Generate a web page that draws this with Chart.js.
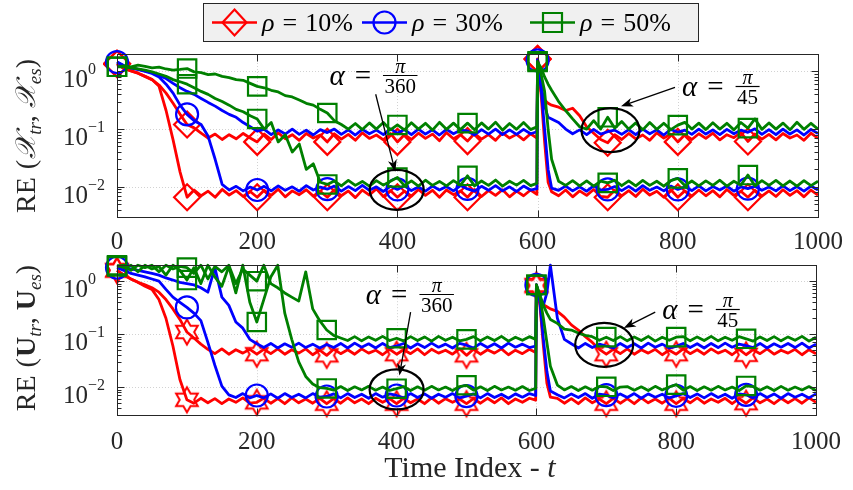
<!DOCTYPE html>
<html>
<head>
<meta charset="utf-8">
<script src="https://cdn.jsdelivr.net/npm/chart.js@4.4.0/dist/chart.umd.min.js"></script>
<style>
html, body { margin: 0; padding: 0; background: #fff; }
#wrap { position: relative; width: 853px; height: 490px; overflow: hidden; }
canvas { position: absolute; left: 0; }
#topChart { top: 0; }
#botChart { top: 250px; }
</style>
</head>
<body>
<div id="wrap">
<canvas id="topChart" width="853" height="250"></canvas>
<canvas id="botChart" width="853" height="240"></canvas>
</div>
<script>
// time index (denser around the jump at t = 600)
var t = [0, 10, 20, 30, 40, 50, 60, 70, 80, 90,
  100, 110, 120, 130, 140, 150, 160, 170, 180, 190,
  200, 210, 220, 230, 240, 250, 260, 270, 280, 290,
  300, 310, 320, 330, 340, 350, 360, 370, 380, 390,
  400, 410, 420, 430, 440, 450, 460, 470, 480, 490,
  500, 510, 520, 530, 540, 550, 560, 570, 580, 590,
  599, 600, 605, 610, 615, 620,
  630, 640, 650, 660, 670, 680, 690, 700, 710, 720,
  730, 740, 750, 760, 770, 780, 790, 800, 810, 820,
  830, 840, 850, 860, 870, 880, 890, 900, 910, 920,
  930, 940, 950, 960, 970, 980, 990, 1000];

var rhoLabels = ['10%', '30%', '50%'];
var xTickVals = [0, 200, 400, 600, 800, 1000];
var yTickVals = [1, 0.1, 0.01];
var yTickExp = ['0', '\u22121', '\u22122'];

// ---- RE(X_tr, X_es) : alpha = pi/360 (1) and alpha = pi/45 (2)
var xRed1 = [1.35, 1.12, 1.02, 0.93, 0.82, 0.72, 0.55, 0.21, 0.065, 0.018,
  0.0066, 0.0088, 0.0070, 0.0084, 0.0066, 0.0090, 0.0072, 0.0086, 0.0068, 0.0083,
  0.0066, 0.0087, 0.0071, 0.0091, 0.0067, 0.0085, 0.0073, 0.0089, 0.0069, 0.0084,
  0.0066, 0.0089, 0.0070, 0.0085, 0.0065, 0.0088, 0.0072, 0.0092, 0.0068, 0.0086,
  0.0066, 0.0084, 0.0069, 0.0090, 0.0071, 0.0087, 0.0066, 0.0088, 0.0073, 0.0085,
  0.0066, 0.0090, 0.0068, 0.0086, 0.0071, 0.0089, 0.0067, 0.0084, 0.0070, 0.0088,
  0.0074, 1.62, 0.4, 0.06, 0.012, 0.0082,
  0.0070, 0.0088, 0.0067, 0.0085, 0.0071, 0.0090, 0.0068, 0.0066, 0.0087, 0.0070,
  0.0086, 0.0068, 0.0091, 0.0072, 0.0084, 0.0066, 0.0089, 0.0066, 0.0085, 0.0069,
  0.0088, 0.0070, 0.0086, 0.0067, 0.0090, 0.0071, 0.0084, 0.0066, 0.0087, 0.0069,
  0.0085, 0.0068, 0.0089, 0.0071, 0.0086, 0.0067, 0.0088, 0.0072];
var xRed2 = [1.35, 1.12, 1.02, 0.93, 0.82, 0.72, 0.58, 0.42, 0.28, 0.18,
  0.12, 0.105, 0.085, 0.07, 0.082, 0.066, 0.08, 0.068, 0.084, 0.07,
  0.06, 0.082, 0.066, 0.086, 0.068, 0.08, 0.064, 0.084, 0.07, 0.079,
  0.06, 0.083, 0.067, 0.081, 0.064, 0.086, 0.069, 0.079, 0.065, 0.084,
  0.06, 0.08, 0.066, 0.085, 0.069, 0.082, 0.063, 0.087, 0.068, 0.08,
  0.062, 0.084, 0.067, 0.08, 0.064, 0.086, 0.07, 0.081, 0.065, 0.083,
  0.07, 1.65, 0.45, 0.32, 0.28, 0.26,
  0.24, 0.21, 0.23, 0.17, 0.11, 0.085, 0.066, 0.058, 0.08, 0.066,
  0.084, 0.068, 0.079, 0.064, 0.086, 0.07, 0.082, 0.06, 0.08, 0.066,
  0.083, 0.069, 0.085, 0.065, 0.08, 0.071, 0.087, 0.061, 0.082, 0.067,
  0.081, 0.065, 0.084, 0.07, 0.079, 0.064, 0.085, 0.069];
var xBlue1 = [1.45, 1.25, 1.15, 1.08, 1.0, 0.92, 0.8, 0.6, 0.42, 0.26,
  0.18, 0.14, 0.12, 0.075, 0.03, 0.011, 0.0088, 0.0102, 0.0085, 0.0099,
  0.0088, 0.0102, 0.0085, 0.0104, 0.0087, 0.0100, 0.0084, 0.0105, 0.0088, 0.0099,
  0.0091, 0.0103, 0.0084, 0.0101, 0.0086, 0.0106, 0.0087, 0.0100, 0.0083, 0.0102,
  0.0090, 0.0104, 0.0086, 0.0099, 0.0084, 0.0103, 0.0088, 0.0101, 0.0085, 0.0105,
  0.0092, 0.0084, 0.0102, 0.0087, 0.0105, 0.0085, 0.0100, 0.0083, 0.0103, 0.0088,
  0.0093, 1.55, 0.5, 0.1, 0.02, 0.0095,
  0.0087, 0.0103, 0.0085, 0.0100, 0.0084, 0.0104, 0.0088, 0.0090, 0.0101, 0.0086,
  0.0102, 0.0084, 0.0105, 0.0087, 0.0099, 0.0085, 0.0103, 0.0090, 0.0100, 0.0086,
  0.0104, 0.0085, 0.0101, 0.0088, 0.0103, 0.0084, 0.0100, 0.0093, 0.0102, 0.0087,
  0.0099, 0.0085, 0.0104, 0.0086, 0.0101, 0.0084, 0.0103, 0.0088];
var xBlue2 = [1.45, 1.25, 1.15, 1.08, 1.02, 0.95, 0.85, 0.75, 0.62, 0.52,
  0.45, 0.40, 0.34, 0.29, 0.25, 0.21, 0.18, 0.16, 0.13, 0.11,
  0.092, 0.099, 0.08, 0.097, 0.082, 0.1, 0.081, 0.096, 0.079, 0.098,
  0.087, 0.1, 0.081, 0.097, 0.079, 0.099, 0.083, 0.096, 0.08, 0.101,
  0.085, 0.098, 0.08, 0.1, 0.082, 0.097, 0.079, 0.099, 0.083, 0.096,
  0.093, 0.079, 0.098, 0.082, 0.1, 0.08, 0.097, 0.081, 0.099, 0.083,
  0.09, 1.6, 0.6, 0.25, 0.16, 0.15,
  0.13, 0.1, 0.083, 0.097, 0.08, 0.099, 0.082, 0.09, 0.096, 0.081,
  0.098, 0.08, 0.1, 0.083, 0.097, 0.079, 0.099, 0.088, 0.096, 0.081,
  0.1, 0.082, 0.097, 0.08, 0.099, 0.083, 0.096, 0.088, 0.101, 0.081,
  0.098, 0.08, 0.1, 0.082, 0.097, 0.079, 0.099, 0.084];
var xGreen1 = [1.2, 1.2, 1.15, 1.1, 1.05, 0.98, 0.9, 0.82, 0.72, 0.66,
  0.6, 0.52, 0.45, 0.4, 0.34, 0.3, 0.26, 0.22, 0.2, 0.17,
  0.15, 0.1, 0.13, 0.06, 0.08, 0.04, 0.055, 0.02, 0.025, 0.012,
  0.011, 0.0126, 0.0104, 0.0129, 0.0106, 0.0124, 0.0103, 0.0128, 0.0107, 0.0125,
  0.0145, 0.0105, 0.0127, 0.0103, 0.0130, 0.0106, 0.0124, 0.0104, 0.0128, 0.0107,
  0.0155, 0.0104, 0.0126, 0.0106, 0.0131, 0.0103, 0.0125, 0.0107, 0.0129, 0.0105,
  0.0115, 1.5, 0.9, 0.45, 0.1, 0.03,
  0.0125, 0.0106, 0.0128, 0.0104, 0.0127, 0.0103, 0.0126, 0.0117, 0.0130, 0.0105,
  0.0127, 0.0104, 0.0129, 0.0106, 0.0125, 0.0103, 0.0128, 0.0140, 0.0105, 0.0126,
  0.0104, 0.0127, 0.0106, 0.0130, 0.0103, 0.0125, 0.0107, 0.0160, 0.0104, 0.0128,
  0.0106, 0.0129, 0.0104, 0.0126, 0.0103, 0.0128, 0.0105, 0.0125];
var xGreen2 = [1.2, 1.25, 1.2, 1.28, 1.22, 1.15, 1.18, 1.1, 1.05, 1.08,
  1.12, 0.98, 0.95, 0.88, 0.9, 0.82, 0.78, 0.72, 0.7, 0.62,
  0.55, 0.52, 0.47, 0.44, 0.38, 0.36, 0.32, 0.28, 0.26, 0.22,
  0.19, 0.14, 0.12, 0.1, 0.125, 0.098, 0.128, 0.1, 0.13, 0.097,
  0.118, 0.097, 0.129, 0.1, 0.126, 0.096, 0.131, 0.099, 0.127, 0.098,
  0.127, 0.097, 0.128, 0.1, 0.132, 0.096, 0.125, 0.099, 0.13, 0.098,
  0.11, 1.45, 1.15, 0.8, 0.6, 0.47,
  0.3, 0.21, 0.15, 0.11, 0.1, 0.14, 0.1, 0.16, 0.104, 0.135,
  0.1, 0.128, 0.097, 0.13, 0.099, 0.126, 0.098, 0.117, 0.131, 0.1,
  0.127, 0.098, 0.129, 0.1, 0.126, 0.097, 0.13, 0.104, 0.15, 0.099,
  0.128, 0.1, 0.127, 0.097, 0.131, 0.099, 0.126, 0.1];

// ---- RE(U_tr, U_es)
var uRed1 = [1.6, 1.3, 1.1, 0.95, 0.8, 0.7, 0.45, 0.2, 0.06, 0.014,
  0.0058, 0.0050, 0.0062, 0.0051, 0.0061, 0.0049, 0.0060, 0.0052, 0.0063, 0.0050,
  0.0052, 0.0062, 0.0050, 0.0061, 0.0049, 0.0063, 0.0051, 0.0060, 0.0050, 0.0062,
  0.0049, 0.0061, 0.0050, 0.0063, 0.0051, 0.0060, 0.0049, 0.0062, 0.0052, 0.0061,
  0.0049, 0.0062, 0.0051, 0.0060, 0.0049, 0.0063, 0.0050, 0.0061, 0.0052, 0.0060,
  0.0049, 0.0061, 0.0050, 0.0062, 0.0051, 0.0063, 0.0049, 0.0060, 0.0052, 0.0062,
  0.0057, 0.85, 0.35, 0.06, 0.012, 0.0065,
  0.0062, 0.0050, 0.0061, 0.0049, 0.0063, 0.0051, 0.0060, 0.0049, 0.0062, 0.0050,
  0.0061, 0.0049, 0.0063, 0.0051, 0.0060, 0.0050, 0.0062, 0.0049, 0.0061, 0.0051,
  0.0063, 0.0050, 0.0060, 0.0052, 0.0062, 0.0049, 0.0061, 0.0050, 0.0063, 0.0051,
  0.0060, 0.0049, 0.0062, 0.0051, 0.0061, 0.0050, 0.0063, 0.0052];
var uRed2 = [1.6, 1.3, 1.1, 0.95, 0.85, 0.75, 0.62, 0.45, 0.3, 0.19,
  0.11, 0.085, 0.065, 0.052, 0.043, 0.053, 0.042, 0.051, 0.044, 0.052,
  0.042, 0.052, 0.043, 0.053, 0.042, 0.051, 0.044, 0.053, 0.041, 0.05,
  0.04, 0.052, 0.043, 0.051, 0.042, 0.053, 0.044, 0.05, 0.041, 0.052,
  0.042, 0.051, 0.043, 0.053, 0.041, 0.052, 0.044, 0.05, 0.042, 0.053,
  0.04, 0.052, 0.042, 0.051, 0.044, 0.053, 0.041, 0.05, 0.043, 0.052,
  0.045, 0.8, 0.5, 0.36, 0.33, 0.3,
  0.27, 0.21, 0.15, 0.12, 0.09, 0.07, 0.052, 0.042, 0.052, 0.043,
  0.053, 0.042, 0.051, 0.044, 0.052, 0.041, 0.05, 0.042, 0.053, 0.043,
  0.051, 0.042, 0.053, 0.044, 0.05, 0.041, 0.052, 0.041, 0.051, 0.043,
  0.053, 0.042, 0.05, 0.044, 0.052, 0.041, 0.051, 0.043];
var uBlue1 = [1.8, 1.6, 1.4, 1.3, 1.2, 1.1, 1.0, 0.7, 0.5, 0.4,
  0.32, 0.25, 0.18, 0.07, 0.026, 0.0105, 0.0072, 0.0064, 0.0076, 0.0063,
  0.0070, 0.0063, 0.0075, 0.0062, 0.0076, 0.0064, 0.0074, 0.0063, 0.0076, 0.0065,
  0.0067, 0.0075, 0.0063, 0.0076, 0.0064, 0.0074, 0.0062, 0.0076, 0.0065, 0.0075,
  0.0070, 0.0063, 0.0076, 0.0064, 0.0075, 0.0062, 0.0074, 0.0065, 0.0076, 0.0063,
  0.0068, 0.0075, 0.0063, 0.0076, 0.0064, 0.0074, 0.0062, 0.0075, 0.0065, 0.0076,
  0.0070, 0.85, 0.4, 0.08, 0.02, 0.0085,
  0.0072, 0.0063, 0.0075, 0.0064, 0.0076, 0.0062, 0.0074, 0.0071, 0.0063, 0.0075,
  0.0064, 0.0076, 0.0062, 0.0075, 0.0065, 0.0074, 0.0063, 0.0069, 0.0076, 0.0064,
  0.0075, 0.0063, 0.0076, 0.0064, 0.0074, 0.0062, 0.0075, 0.0072, 0.0063, 0.0076,
  0.0064, 0.0075, 0.0062, 0.0076, 0.0065, 0.0074, 0.0063, 0.0075];
var uBlue2 = [1.9, 1.8, 1.7, 1.6, 1.5, 1.4, 1.3, 1.15, 1.05, 0.95,
  0.9, 0.85, 0.75, 0.62, 1.8, 0.5, 0.35, 0.17, 0.13, 0.08,
  0.066, 0.056, 0.067, 0.055, 0.066, 0.057, 0.068, 0.056, 0.065, 0.055,
  0.064, 0.056, 0.067, 0.055, 0.068, 0.057, 0.066, 0.055, 0.067, 0.056,
  0.06, 0.067, 0.055, 0.066, 0.056, 0.068, 0.057, 0.065, 0.055, 0.067,
  0.062, 0.055, 0.067, 0.056, 0.066, 0.055, 0.068, 0.057, 0.065, 0.056,
  0.06, 0.85, 0.5, 0.35, 0.6, 2.0,
  0.2, 0.08, 0.066, 0.055, 0.067, 0.056, 0.065, 0.06, 0.055, 0.067,
  0.056, 0.066, 0.055, 0.068, 0.057, 0.065, 0.055, 0.059, 0.067, 0.056,
  0.066, 0.055, 0.067, 0.056, 0.068, 0.057, 0.065, 0.061, 0.056, 0.067,
  0.055, 0.066, 0.057, 0.067, 0.056, 0.068, 0.055, 0.065];
var uGreen1 = [2.0, 1.8, 2.0, 1.5, 2.0, 1.7, 1.9, 1.3, 2.0, 1.6,
  1.05, 1.8, 0.9, 2.0, 1.2, 0.8, 1.9, 0.6, 2.0, 0.4,
  0.17, 0.45, 1.2, 2.0, 0.25, 0.08, 0.03, 0.016, 0.0115, 0.0098,
  0.0095, 0.0088, 0.0103, 0.0087, 0.0102, 0.0089, 0.0104, 0.0088, 0.0101, 0.0087,
  0.0094, 0.0103, 0.0087, 0.0102, 0.0088, 0.0104, 0.0089, 0.0101, 0.0087, 0.0103,
  0.0109, 0.0088, 0.0102, 0.0087, 0.0104, 0.0089, 0.0101, 0.0088, 0.0103, 0.0087,
  0.0095, 0.85, 0.5, 0.2, 0.07, 0.025,
  0.011, 0.0089, 0.0103, 0.0087, 0.0102, 0.0088, 0.0104, 0.0102, 0.0087, 0.0101,
  0.0103, 0.0088, 0.0102, 0.0087, 0.0104, 0.0089, 0.0101, 0.0112, 0.0088, 0.0103,
  0.0087, 0.0102, 0.0088, 0.0104, 0.0089, 0.0101, 0.0087, 0.0106, 0.0103, 0.0088,
  0.0102, 0.0087, 0.0104, 0.0088, 0.0101, 0.0089, 0.0103, 0.0087];
var uGreen2 = [1.9, 2.0, 1.6, 2.0, 1.8, 2.0, 1.5, 2.0, 1.7, 1.9,
  1.8, 1.4, 2.0, 1.1, 1.9, 1.5, 2.0, 0.9, 1.7, 1.3,
  1.0, 2.0, 0.9, 0.75, 0.6, 0.5, 0.42, 1.5, 0.3, 0.18,
  0.12, 0.095, 0.085, 0.076, 0.09, 0.075, 0.089, 0.077, 0.091, 0.076,
  0.084, 0.075, 0.09, 0.076, 0.089, 0.074, 0.091, 0.077, 0.088, 0.075,
  0.08, 0.09, 0.075, 0.089, 0.076, 0.091, 0.074, 0.088, 0.077, 0.09,
  0.08, 0.85, 0.55, 0.35, 0.25, 0.19,
  0.16, 0.125, 0.12, 0.105, 0.095, 0.09, 0.077, 0.088, 0.076, 0.09,
  0.075, 0.089, 0.076, 0.091, 0.074, 0.088, 0.077, 0.088, 0.09, 0.075,
  0.089, 0.076, 0.091, 0.075, 0.088, 0.077, 0.09, 0.082, 0.074, 0.089,
  0.076, 0.09, 0.075, 0.089, 0.077, 0.091, 0.074, 0.088];

var SERIF = "'Liberation Serif', 'DejaVu Serif', serif";
var INK = '#262626';
var RED = '#ff0000', BLUE = '#0000ff', GREEN = '#008000';

function f(px) { return px + 'px ' + SERIF; }
function fi(px) { return 'italic ' + px + 'px ' + SERIF; }
function fb(px) { return 'bold ' + px + 'px ' + SERIF; }

// parts: [text, font, dy, gapAfter]
function rich(ctx, parts, x, y, align) {
  var w = 0;
  parts.forEach(function (p) { ctx.font = p[1]; w += ctx.measureText(p[0]).width + (p[3] || 0); });
  var cx = align === 'center' ? x - w / 2 : (align === 'right' ? x - w : x);
  ctx.textAlign = 'left';
  ctx.textBaseline = 'alphabetic';
  parts.forEach(function (p) {
    ctx.font = p[1];
    ctx.fillText(p[0], cx, y + (p[2] || 0));
    cx += ctx.measureText(p[0]).width + (p[3] || 0);
  });
  return w;
}

// hexagram marker for the lower plot
var hexStar = document.createElement('canvas');
hexStar.width = 30; hexStar.height = 30;
(function () {
  var c = hexStar.getContext('2d'), R = 12.5, r = 12.5 / Math.sqrt(3);
  c.strokeStyle = RED; c.lineWidth = 2; c.lineJoin = 'miter';
  c.beginPath();
  for (var k = 0; k < 12; k++) {
    var ang = -Math.PI / 2 + k * Math.PI / 6, rr = k % 2 ? r : R;
    var px = 15 + rr * Math.cos(ang), py = 15 + rr * Math.sin(ang);
    if (k === 0) c.moveTo(px, py); else c.lineTo(px, py);
  }
  c.closePath(); c.stroke();
})();

var yMinor = [];
[0.001, 0.01, 0.1, 1].forEach(function (d) {
  for (var m = 1; m <= 9; m++) { var v = m * d; if (v >= 0.003 - 1e-9 && v <= 2 + 1e-9) yMinor.push(v); }
});

function legendMarker(ctx, style, x, y, color) {
  ctx.save();
  ctx.strokeStyle = color; ctx.lineWidth = 2.2; ctx.beginPath();
  if (style === 'rectRot') { ctx.moveTo(x, y - 13); ctx.lineTo(x + 12, y); ctx.lineTo(x, y + 13); ctx.lineTo(x - 12, y); ctx.closePath(); }
  else if (style === 'circle') { ctx.arc(x, y, 11, 0, Math.PI * 2); }
  else { ctx.rect(x - 9.5, y - 9.5, 19, 19); }
  ctx.stroke();
  ctx.restore();
}

function arrow(ctx, x1, y1, x2, y2) {
  var ang = Math.atan2(y2 - y1, x2 - x1), L = 12, W = 4.5;
  ctx.beginPath();
  ctx.moveTo(x1, y1);
  ctx.lineTo(x2 - 8 * Math.cos(ang), y2 - 8 * Math.sin(ang));
  ctx.stroke();
  ctx.save();
  ctx.translate(x2, y2); ctx.rotate(ang);
  ctx.beginPath();
  ctx.moveTo(0, 0); ctx.lineTo(-L, -W); ctx.lineTo(-L * 0.72, 0); ctx.lineTo(-L, W);
  ctx.closePath(); ctx.fill();
  ctx.restore();
}

var decor = {
  id: 'decor',
  beforeDatasetsDraw: function (chart) {
    var ctx = chart.ctx, a = chart.chartArea, xs = chart.scales.x, ys = chart.scales.y;
    ctx.save();
    ctx.strokeStyle = '#d2d2d2'; ctx.lineWidth = 1; ctx.setLineDash([1, 2]);
    ctx.beginPath();
    xTickVals.forEach(function (v) {
      if (v <= 0 || v >= 1000) return;
      var px = Math.round(xs.getPixelForValue(v)) + 0.5;
      ctx.moveTo(px, a.top); ctx.lineTo(px, a.bottom);
    });
    yTickVals.forEach(function (v) {
      var py = Math.round(ys.getPixelForValue(v)) + 0.5;
      ctx.moveTo(a.left, py); ctx.lineTo(a.right, py);
    });
    ctx.stroke();
    ctx.restore();
  },
  afterDraw: function (chart, args, o) {
    var ctx = chart.ctx, a = chart.chartArea, xs = chart.scales.x, ys = chart.scales.y;
    ctx.save();
    // axes box and inward ticks
    ctx.strokeStyle = INK; ctx.lineWidth = 1;
    var L = Math.round(a.left) + 0.5, R = Math.round(a.right) + 0.5, T = Math.round(a.top) + 0.5, B = Math.round(a.bottom) + 0.5;
    ctx.strokeRect(L, T, R - L, B - T);
    ctx.beginPath();
    xTickVals.forEach(function (v) {
      var px = Math.round(xs.getPixelForValue(v)) + 0.5;
      ctx.moveTo(px, B); ctx.lineTo(px, B - 7);
      ctx.moveTo(px, T); ctx.lineTo(px, T + 7);
    });
    yMinor.forEach(function (v) {
      var py = Math.round(ys.getPixelForValue(v)) + 0.5;
      var len = yTickVals.indexOf(v) >= 0 ? 7 : 4;
      ctx.moveTo(L, py); ctx.lineTo(L + len, py);
      ctx.moveTo(R, py); ctx.lineTo(R - len, py);
    });
    ctx.stroke();

    // y tick labels 10^k
    ctx.fillStyle = INK;
    yTickVals.forEach(function (v, i) {
      var py = ys.getPixelForValue(v);
      ctx.textBaseline = 'alphabetic';
      ctx.font = f(25); ctx.textAlign = 'right';
      ctx.fillText('10', a.left - 29, py + 16);
      ctx.font = f(16); ctx.textAlign = 'left';
      ctx.fillText(yTickExp[i], a.left - 29, py + 3);
    });

    // y title (rotated)
    ctx.save();
    ctx.translate(26, o.titleY);
    ctx.rotate(-Math.PI / 2);
    ctx.fillStyle = INK;
    rich(ctx, o.ytitle, 0, 9, 'center');
    ctx.restore();

    // x title
    if (o.xtitle) {
      ctx.fillStyle = INK;
      rich(ctx, [['Time Index - ', f(30), 0, 0], ['t', fi(30), 0, 0]], 470, 227, 'center');
    }

    // ellipses, arrows and alpha notes
    ctx.strokeStyle = '#000'; ctx.fillStyle = '#000';
    (o.ellipses || []).forEach(function (e) {
      ctx.lineWidth = 2.2;
      ctx.beginPath();
      ctx.ellipse(xs.getPixelForValue(e.t), ys.getPixelForValue(e.v), e.rx, e.ry, 0, 0, Math.PI * 2);
      ctx.stroke();
    });
    (o.arrows || []).forEach(function (e) {
      ctx.lineWidth = 1.3;
      arrow(ctx, xs.getPixelForValue(e.t1), ys.getPixelForValue(e.v1), xs.getPixelForValue(e.t2), ys.getPixelForValue(e.v2));
    });
    (o.notes || []).forEach(function (e) {
      var x0 = xs.getPixelForValue(e.t), yb = ys.getPixelForValue(e.v);
      ctx.fillStyle = '#000';
      var w = rich(ctx, [['\u03b1', fi(29), 0, 10], ['=', f(29), 0, 12]], x0, yb, 'left');
      ctx.font = f(21);
      var dw = ctx.measureText(e.den).width;
      var bx = x0 + w, by = Math.round(yb - 10) + 0.5;
      ctx.lineWidth = 1.2; ctx.strokeStyle = '#000';
      ctx.beginPath(); ctx.moveTo(bx, by); ctx.lineTo(bx + dw + 3, by); ctx.stroke();
      ctx.textAlign = 'center';
      ctx.fillText(e.den, bx + (dw + 3) / 2, by + 17);
      ctx.font = fi(20);
      ctx.fillText('\u03c0', bx + (dw + 3) / 2, by - 3);
    });

    // legend
    if (o.legend) {
      ctx.fillStyle = '#f0f0f0';
      ctx.fillRect(203.5, 3.5, 495, 38);
      ctx.strokeStyle = INK; ctx.lineWidth = 1;
      ctx.strokeRect(203.5, 3.5, 495, 38);
      var starts = [212, 362, 530], cols = [RED, BLUE, GREEN], styles = ['rectRot', 'circle', 'rect'];
      rhoLabels.forEach(function (lab, i) {
        var x = starts[i], y = 22.5;
        ctx.strokeStyle = cols[i]; ctx.lineWidth = 2.5;
        ctx.beginPath(); ctx.moveTo(x, y); ctx.lineTo(x + 45, y); ctx.stroke();
        legendMarker(ctx, styles[i], x + 22.5, y, cols[i]);
        ctx.fillStyle = '#000';
        rich(ctx, [['\u03c1', fi(26), 0, 8], ['=', f(26), 0, 8], [lab, f(26), 0, 0]], x + 50, 31, 'left');
      });
    }
    ctx.restore();
  }
};

function series(vals, color, style, r) {
  return {
    data: vals.map(function (v, i) { return { x: t[i], y: v }; }),
    borderColor: color,
    borderWidth: 2.8,
    borderJoinStyle: 'round',
    pointStyle: style,
    pointBorderColor: color,
    pointBackgroundColor: 'rgba(0,0,0,0)',
    pointBorderWidth: 2.2,
    pointRadius: function (c) { var tt = t[c.dataIndex]; return (tt % 100 === 0 && tt < 1000) ? r : 0; },
    pointHoverRadius: 0,
    tension: 0,
    clip: 14
  };
}

function makeChart(id, sets, padTop, xH, tickPad, extra) {
  return new Chart(document.getElementById(id), {
    type: 'line',
    data: { datasets: sets },
    options: {
      responsive: false,
      animation: false,
      devicePixelRatio: 1,
      events: [],
      layout: { padding: { top: padTop, right: 31, left: 0, bottom: 0 } },
      plugins: { legend: { display: false }, tooltip: { enabled: false }, decor: extra },
      scales: {
        x: {
          type: 'linear', min: 0, max: 1000,
          afterBuildTicks: function (s) { s.ticks = xTickVals.map(function (v) { return { value: v }; }); },
          afterFit: function (s) { s.height = xH; },
          ticks: {
            font: { family: SERIF, size: 25 }, color: INK, padding: tickPad, maxRotation: 0, autoSkip: false,
            callback: function (v) { return String(v); }
          },
          grid: { display: false, drawTicks: false },
          border: { display: false }
        },
        y: {
          type: 'logarithmic', min: 0.003, max: 2,
          afterFit: function (s) { s.width = 117; },
          ticks: { display: false },
          grid: { display: false, drawTicks: false },
          border: { display: false }
        }
      }
    },
    plugins: [decor]
  });
}

// green drawn on top, then blue, then red; the blue alpha = pi/45 curve carries no markers
makeChart('topChart', [
  series(xGreen1, GREEN, 'rect', 13), series(xGreen2, GREEN, 'rect', 13),
  series(xBlue1, BLUE, 'circle', 11), series(xBlue2, BLUE, 'circle', 0),
  series(xRed1, RED, 'rectRot', 13), series(xRed2, RED, 'rectRot', 13)
], 54, 33, 10, {
  legend: true,
  titleY: 136,
  ytitle: [['RE', f(28), 0, 8], ['(', f(28), 0, 1], ['\ud835\udcb3', fi(28), 0, 0], ['tr', fi(19), 6, 0], [',', f(28), 0, 7],
    ['\ud835\udcb3', fi(28), 0, 0], ['es', fi(19), 6, 0], [')', f(28), 0, 0]],
  ellipses: [{ t: 399, v: 0.00887, rx: 27, ry: 20 }, { t: 704, v: 0.0961, rx: 29, ry: 22 }],
  arrows: [{ t1: 369, v1: 0.401, t2: 397, v2: 0.0182 }, { t1: 796, v1: 0.53, t2: 719, v2: 0.249 }],
  notes: [{ t: 303, v: 0.574, den: '360' }, { t: 806, v: 0.371, den: '45' }]
});

makeChart('botChart', [
  series(uGreen1, GREEN, 'rect', 13), series(uGreen2, GREEN, 'rect', 13),
  series(uBlue1, BLUE, 'circle', 11), series(uBlue2, BLUE, 'circle', 0),
  series(uRed1, RED, hexStar, 12), series(uRed2, RED, hexStar, 12)
], 5, 75, 12, {
  xtitle: true,
  titleY: 88,
  ytitle: [['RE', f(28), 0, 8], ['(', f(28), 0, 1], ['U', fb(28), 0, 0], ['tr', fi(19), 6, 0], [',', f(28), 0, 7],
    ['U', fb(28), 0, 0], ['es', fi(19), 6, 0], [')', f(28), 0, 0]],
  ellipses: [{ t: 400, v: 0.00912, rx: 27, ry: 20 }, { t: 697, v: 0.0632, rx: 29, ry: 22 }],
  arrows: [{ t1: 420, v1: 0.261, t2: 404, v2: 0.0167 }, { t1: 770, v1: 0.261, t2: 725, v2: 0.131 }],
  notes: [{ t: 356, v: 0.37, den: '360' }, { t: 780, v: 0.196, den: '45' }]
});
</script>
</body>
</html>
